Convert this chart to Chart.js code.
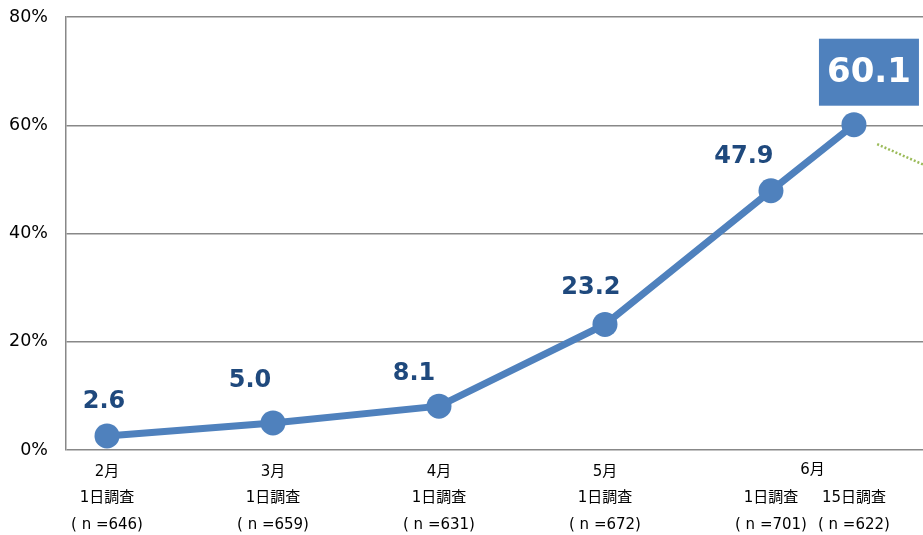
<!DOCTYPE html>
<html>
<head>
<meta charset="utf-8">
<script src="https://cdn.jsdelivr.net/npm/chart.js@4/dist/chart.umd.min.js"></script>
<style>
  html, body { margin: 0; padding: 0; background: #fff; }
  #wrap { width: 923px; height: 535px; position: relative; }
</style>
</head>
<body>
<div id="wrap"><canvas id="chart"></canvas></div>
<script>
// survey timing in months from 2月1日 (6月15日 is half a month after 6月1日)
const surveyPos = [0, 1, 2, 3, 4, 4.5];
const monthLabels = ["2月", "3月", "4月", "5月", "", ""];
const dayLabels = ["1日調査", "1日調査", "1日調査", "1日調査", "1日調査", "15日調査"];
const sampleSizes = [646, 659, 631, 672, 701, 622];
const rates = [2.6, 5.0, 8.1, 23.2, 47.9, 60.1];
const yTicks = [0, 20, 40, 60, 80];
// dotted leader line heading off to the right from the last point
const leaderX = [4.64, 4.92];
const leaderY = [56.5, 52.7];

const FONT = 'Verdana, "DejaVu Sans", "Noto Sans CJK JP", sans-serif';
const BLUE = "#4f81bd";
const NAVY = "#1f497d";

// label offsets from each point (px)
const labelOffsets = [[-3, -34], [-23, -42], [-25, -32], [-14, -37], [-27, -34], [15, -53]];

const valueLabels = {
  id: "valueLabels",
  afterDatasetsDraw(chart) {
    const ctx = chart.ctx;
    const meta = chart.getDatasetMeta(0);
    ctx.save();
    ctx.textAlign = "center";
    ctx.textBaseline = "middle";
    meta.data.forEach((pt, i) => {
      const [dx, dy] = labelOffsets[i];
      const x = pt.x + dx;
      const y = pt.y + dy;
      const text = rates[i].toFixed(1);
      if (i === rates.length - 1) {
        ctx.fillStyle = BLUE;
        ctx.fillRect(x - 50, y - 33, 100, 67);
        ctx.fillStyle = "#fff";
        ctx.font = "bold 34px " + FONT;
        ctx.fillText(text, x, y + 1);
      } else {
        ctx.fillStyle = NAVY;
        ctx.font = "bold 24px " + FONT;
        ctx.fillText(text, x, y);
      }
    });
    // 6月 shared between the two June surveys
    const xs = chart.scales.x;
    const mid = (xs.getPixelForValue(surveyPos[4]) + xs.getPixelForValue(surveyPos[5])) / 2;
    ctx.fillStyle = "#000";
    ctx.font = "15px " + FONT;
    ctx.fillText("6月", mid, xs.top + 20);
    ctx.restore();
  },
};

new Chart(document.getElementById("chart"), {
  type: "line",
  data: {
    datasets: [
      {
        data: surveyPos.map((x, i) => ({ x, y: rates[i] })),
        borderColor: BLUE,
        backgroundColor: BLUE,
        borderWidth: 7,
        pointRadius: 12.5,
        pointHoverRadius: 12.5,
        pointBorderWidth: 0,
        tension: 0,
      },
      {
        data: leaderX.map((x, i) => ({ x, y: leaderY[i] })),
        borderColor: "#9bbb59",
        borderWidth: 2.5,
        borderDash: [2, 2],
        pointRadius: 0,
        tension: 0,
      },
    ],
  },
  options: {
    responsive: true,
    maintainAspectRatio: false,
    animation: false,
    layout: { autoPadding: false, padding: { top: 17, right: 0, left: 0, bottom: 0 } },
    plugins: { legend: { display: false }, tooltip: { enabled: false } },
    scales: {
      x: {
        type: "linear",
        min: -0.247,
        max: 4.916,
        afterBuildTicks: (scale) => {
          scale.ticks = surveyPos.map((v) => ({ value: v }));
        },
        afterFit: (scale) => {
          scale.height = 85;
          scale.paddingLeft = 0;
          scale.paddingRight = 0;
        },
        grid: { display: false, drawTicks: false },
        border: { display: false },
        ticks: {
          autoSkip: false,
          maxRotation: 0,
          padding: 9,
          color: "#000",
          font: { family: FONT, size: 15, lineHeight: 1.75 },
          callback: (value) => {
            const i = surveyPos.indexOf(value);
            if (i < 0) return "";
            return [monthLabels[i], dayLabels[i], "( n =" + sampleSizes[i] + ")"];
          },
        },
      },
      y: {
        min: 0,
        max: 80,
        afterBuildTicks: (scale) => {
          scale.ticks = yTicks.map((v) => ({ value: v }));
        },
        afterFit: (scale) => {
          scale.width = 66;
          scale.paddingTop = 0;
          scale.paddingBottom = 0;
        },
        grid: { color: "#888", lineWidth: 1.5, drawTicks: false },
        border: { display: true, color: "#888", width: 1.5 },
        ticks: {
          padding: 18,
          color: "#000",
          font: { family: FONT, size: 17.5 },
          callback: (v) => v + "%",
        },
      },
    },
  },
  plugins: [valueLabels],
});
</script>
</body>
</html>
